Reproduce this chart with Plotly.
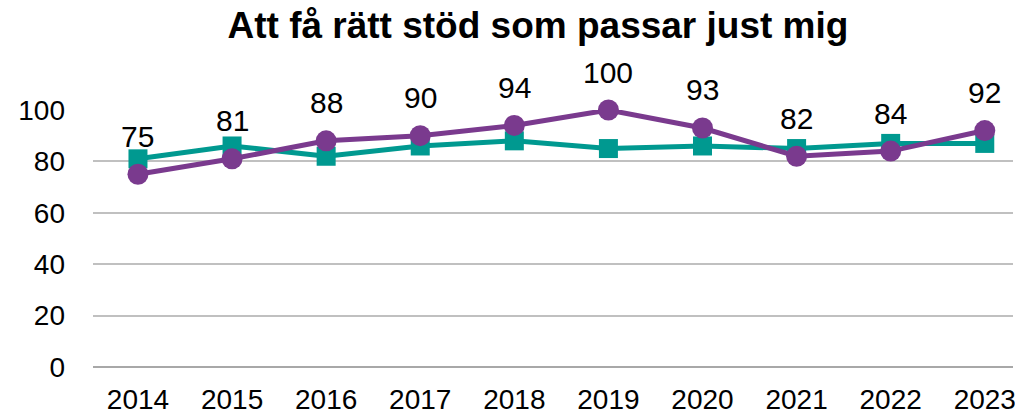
import plotly.graph_objects as go

years = ["2014", "2015", "2016", "2017", "2018", "2019", "2020", "2021", "2022", "2023"]
teal_values = [81, 86, 82, 86, 88, 85, 86, 85, 87, 87]
purple_values = [75, 81, 88, 90, 94, 100, 93, 82, 84, 92]
y_ticks = [0, 20, 40, 60, 80, 100]

TEAL = "#009990"
PURPLE = "#7A3A8E"
FONT = "Liberation Sans, Arial, sans-serif"

fig = go.Figure()
fig.add_trace(go.Scatter(
    x=list(range(len(years))), y=teal_values, mode="lines+markers",
    line=dict(color=TEAL, width=5),
    marker=dict(symbol="square", size=19, color=TEAL),
    cliponaxis=False, showlegend=False,
))
fig.add_trace(go.Scatter(
    x=list(range(len(years))), y=purple_values, mode="lines+markers",
    line=dict(color=PURPLE, width=5),
    marker=dict(symbol="circle", size=21, color=PURPLE),
    cliponaxis=False, showlegend=False,
))

# value labels above the purple series
for i, v in enumerate(purple_values):
    fig.add_annotation(
        x=i, y=v, text=str(v), showarrow=False, yshift=38,
        font=dict(family=FONT, size=30, color="#000000"),
    )

fig.update_layout(
    width=1015, height=418,
    margin=dict(l=93, r=2, t=110, b=51),
    paper_bgcolor="white", plot_bgcolor="white",
    title=dict(
        text="<b>Att få rätt stöd som passar just mig</b>",
        x=0.53, xanchor="center", y=0.94, yanchor="middle",
        font=dict(family=FONT, size=37, color="#000000"),
    ),
    font=dict(family=FONT, size=28, color="#000000"),
)
fig.update_xaxes(
    tickmode="array", tickvals=list(range(len(years))), ticktext=years,
    range=[-0.478, 9.30], showgrid=False, zeroline=False,
    showline=False, ticks="", ticklabelstandoff=13,
    ticklabeloverflow="allow", automargin=False,
)
fig.update_yaxes(
    range=[0, 100], tickmode="array", tickvals=y_ticks,
    showgrid=True, gridcolor="#C0C0C0", gridwidth=2,
    zeroline=True, zerolinecolor="#A8A8A8", zerolinewidth=2,
    showline=False, ticks="", ticklabelstandoff=27, automargin=False,
)

fig.write_html("out.html")
